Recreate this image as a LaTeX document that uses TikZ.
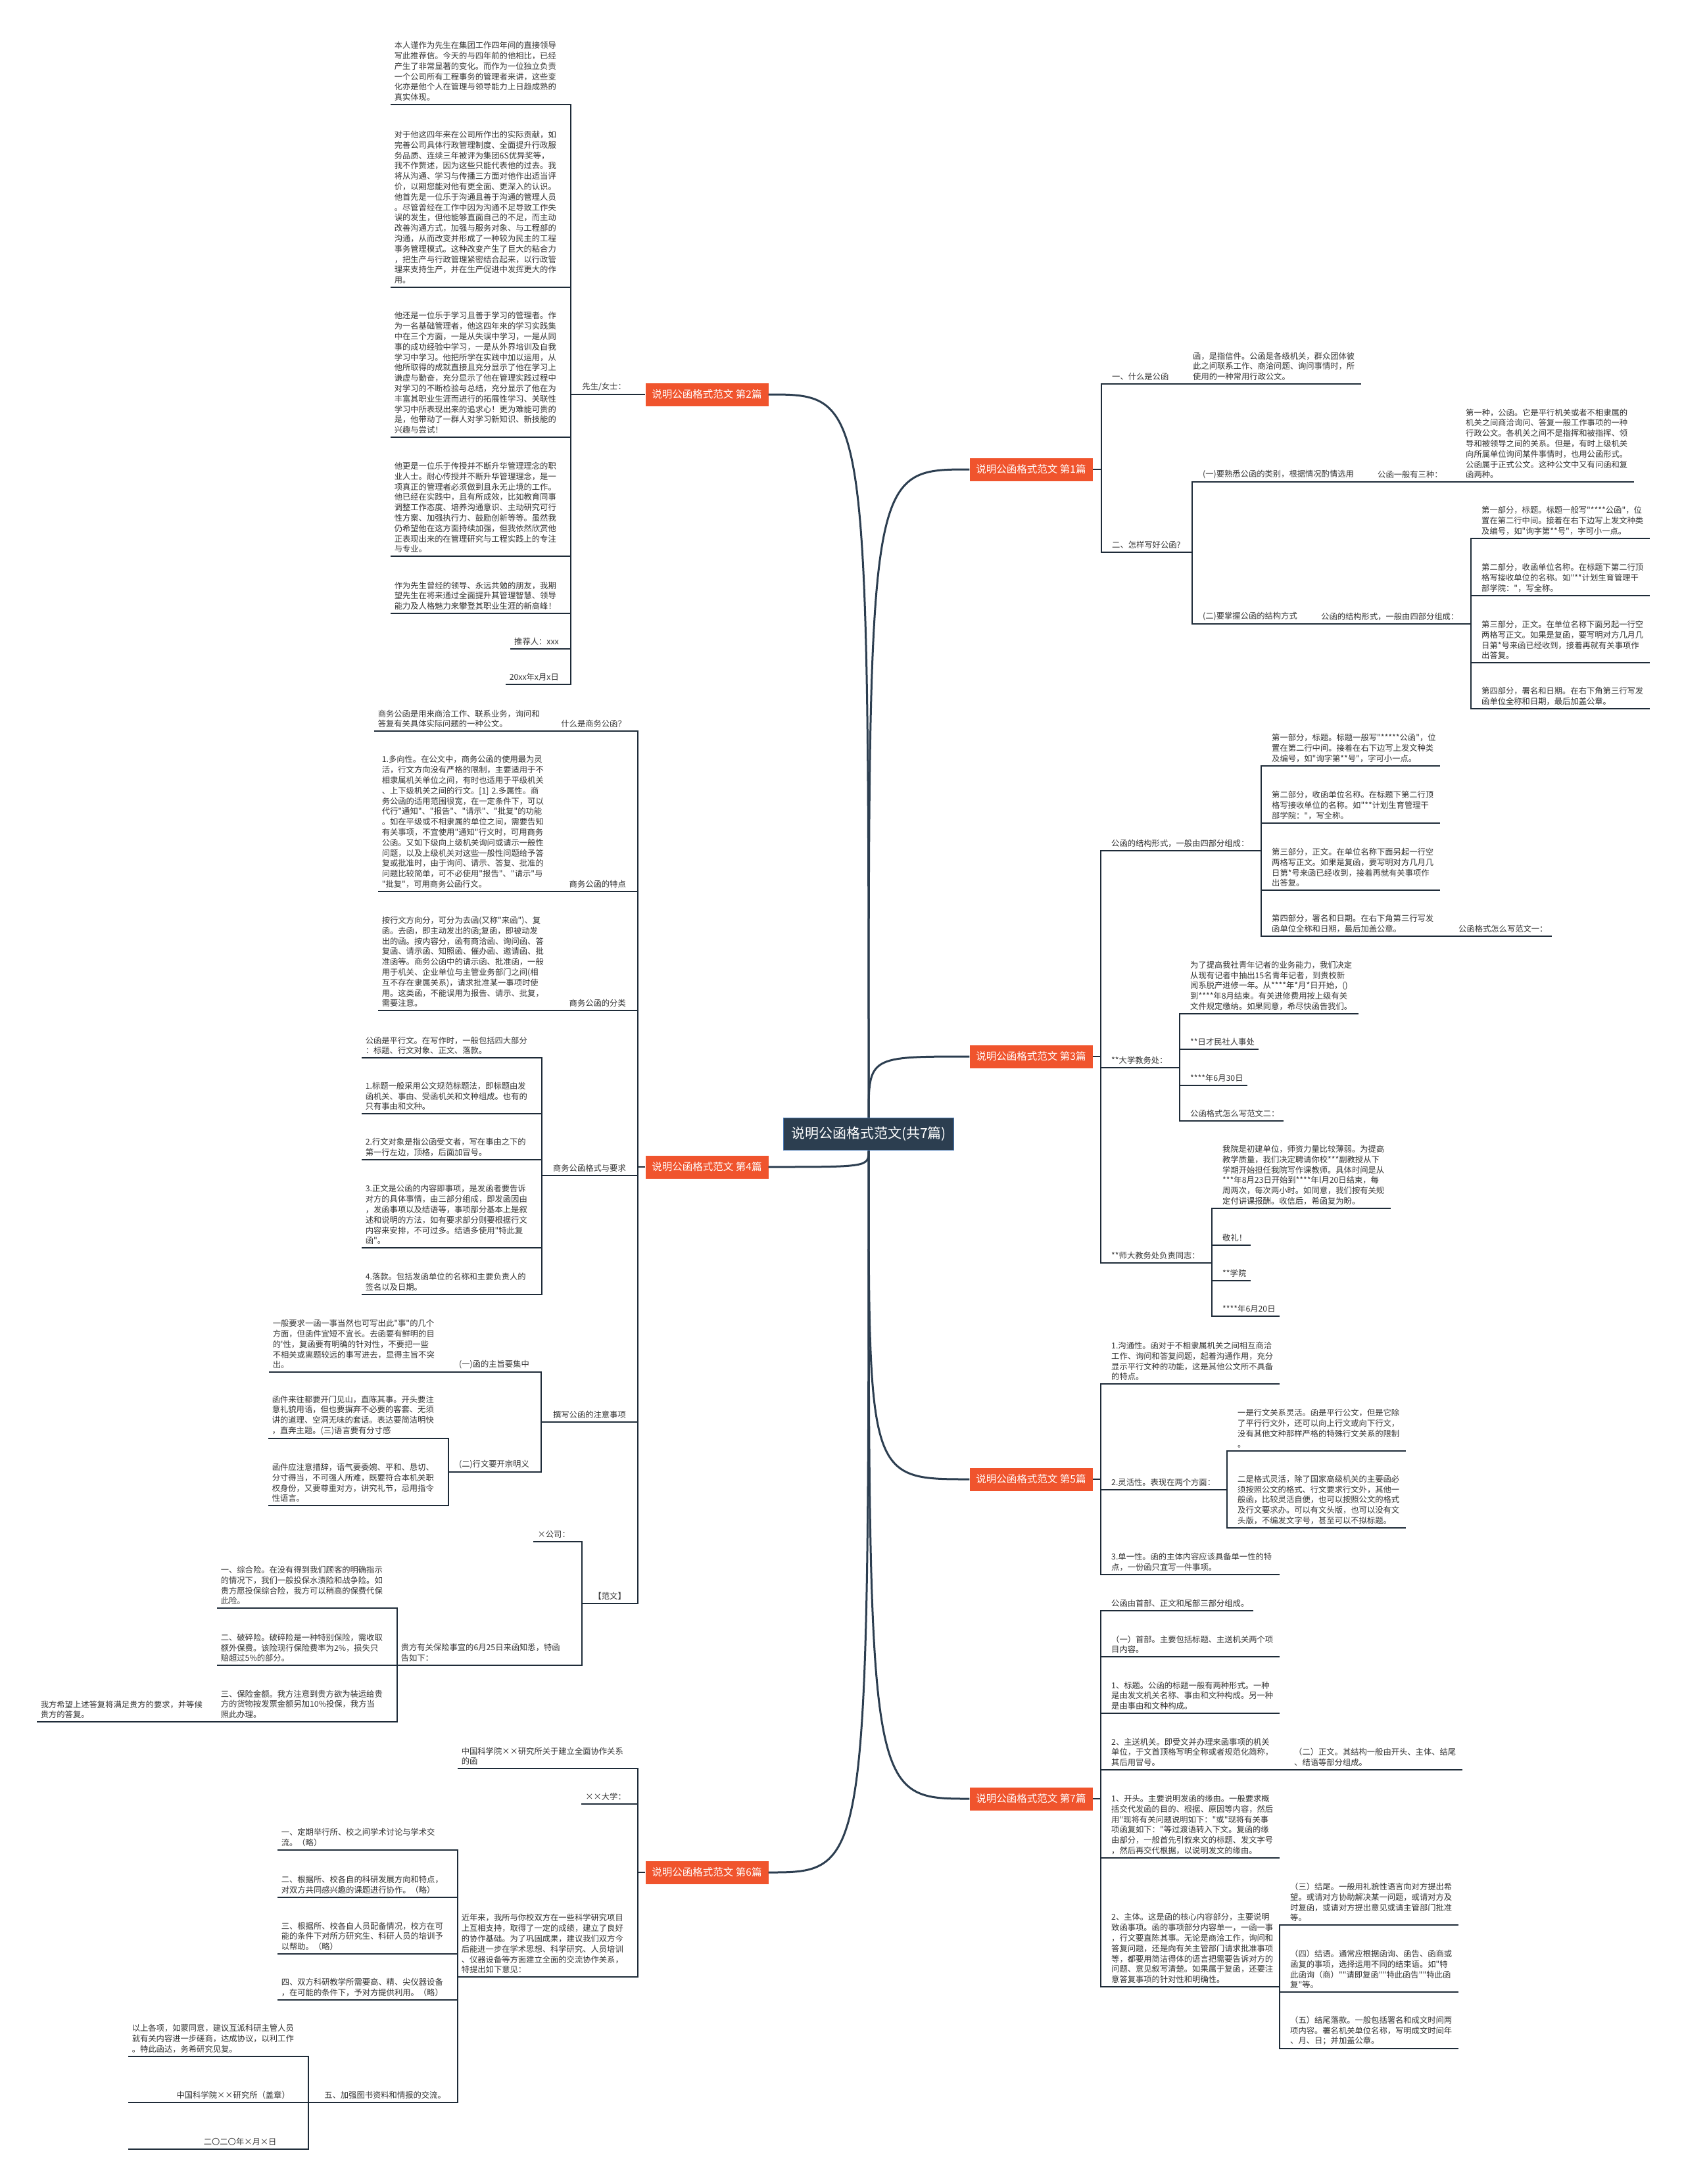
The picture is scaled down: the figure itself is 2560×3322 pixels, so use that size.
\documentclass[tikz,border=0pt]{standalone}
\usepackage{fontspec}
\usepackage{xcolor}
\usepackage{tikz}
\newfontfamily\cjk{Noto Sans CJK SC}
\definecolor{rootfill}{HTML}{2C3E50}
\definecolor{rootedge}{HTML}{4A7AB5}
\definecolor{subfill}{HTML}{F0542D}
\definecolor{stemc}{HTML}{2C3E50}
\definecolor{linec}{HTML}{1E2B38}
\definecolor{txt}{HTML}{333333}
\newcommand{\leaftext}{\cjk\fontsize{12.3}{15.8}\selectfont}

\begin{document}
\begin{tikzpicture}[x=1pt,y=-1pt,
  root/.style={fill=rootfill,draw=rootedge,line width=1.5pt,text=white,font=\cjk\fontsize{21}{24}\selectfont,minimum width=259pt,minimum height=49pt,inner sep=0pt},
  sub/.style={fill=subfill,text=white,font=\cjk\fontsize{15.5}{18}\selectfont,minimum width=187pt,minimum height=35pt,inner sep=0pt},
  rt/.style={anchor=south west,align=left,inner xsep=6pt,inner ysep=5pt,text=txt,font=\leaftext},
  lt/.style={anchor=south east,align=left,inner xsep=6pt,inner ysep=5pt,text=txt,font=\leaftext},
  lh/.style={lt,align=right},
  stem/.style={draw=stemc,line width=3pt},
  wire/.style={draw=linec,line width=2pt}]
  \fill[white] (0,0) rectangle (2560,3322);
  \useasboundingbox (0,0) rectangle (2560,3322);

  \node[root] (root) at (1321,1725) {说明公函格式范文(共7篇)};
  \node[sub] (b1) at (1568,714) {说明公函格式范文 第1篇};
  \node[sub] (b2) at (1075,600) {说明公函格式范文 第2篇};
  \node[sub] (b3) at (1568,1607) {说明公函格式范文 第3篇};
  \node[sub] (b4) at (1075,1775) {说明公函格式范文 第4篇};
  \node[sub] (b5) at (1568,2250) {说明公函格式范文 第5篇};
  \node[sub] (b6) at (1075,2848) {说明公函格式范文 第6篇};
  \node[sub] (b7) at (1568,2736) {说明公函格式范文 第7篇};
  \coordinate (b1j) at (1675,714);
  \coordinate (b2j) at (970,600);
  \coordinate (b3j) at (1674,1607);
  \coordinate (b4j) at (970,1775);
  \coordinate (b5j) at (1674,2250);
  \coordinate (b6j) at (970,2848);
  \coordinate (b7j) at (1674,2736);

  \draw[stem] (root.north) .. controls (root.north |- b1.west) .. (b1.west);
  \draw[stem] (root.north) .. controls (root.north |- b2.east) .. (b2.east);
  \draw[stem] (root.north) .. controls (root.north |- b3.west) .. (b3.west);
  \draw[stem] (root.south) .. controls (root.south |- b4.east) .. (b4.east);
  \draw[stem] (root.south) .. controls (root.south |- b5.west) .. (b5.west);
  \draw[stem] (root.south) .. controls (root.south |- b6.east) .. (b6.east);
  \draw[stem] (root.south) .. controls (root.south |- b7.west) .. (b7.west);

  \node[rt,text width=101pt] (b1a) at (1685,584) {一、什么是公函};
  \node[rt,text width=250pt] (b1a1) at (1808,584) {函，是指信件。公函是各级机关，群众团体彼\\此之间联系工作、商洽问题、询问事情时，所\\使用的一种常用行政公文。};
  \node[rt,text width=116pt] (b1b) at (1685,840) {二、怎样写好公函?};
  \node[rt,text width=244pt] (b1b1) at (1823,733) {(一)要熟悉公函的类别，根据情况酌情选用};
  \node[rt,text width=112pt] (b1b1a) at (2089,733) {公函一般有三种：};
  \node[rt,text width=250pt] (b1b1b) at (2223,733) {第一种，公函。它是平行机关或者不相隶属的\\机关之间商洽询问、答复一般工作事项的一种\\行政公文。各机关之间不是指挥和被指挥、领\\导和被领导之间的关系。但是，有时上级机关\\向所属单位询问某件事情时，也用公函形式。\\公函属于正式公文。这种公文中又有问函和复\\函两种。};
  \node[rt,text width=158pt] (b1b2) at (1823,949) {(二)要掌握公函的结构方式};
  \node[rt,text width=222pt] (b1b2a) at (2003,949) {公函的结构形式，一般由四部分组成：};
  \node[rt,text width=250pt] (b1b2a1) at (2247,819) {第一部分，标题。标题一般写"****公函"，位\\置在第二行中间。接着在右下边写上发文种类\\及编号，如"询字第**号"，字可小一点。};
  \node[rt,text width=250pt] (b1b2a2) at (2247,906) {第二部分，收函单位名称。在标题下第二行顶\\格写接收单位的名称。如"**计划生育管理干\\部学院："，写全称。};
  \node[rt,text width=250pt] (b1b2a3) at (2247,1008) {第三部分，正文。在单位名称下面另起一行空\\两格写正文。如果是复函，要写明对方几月几\\日第*号来函已经收到，接着再就有关事项作\\出答复。};
  \node[rt,text width=250pt] (b1b2a4) at (2247,1078) {第四部分，署名和日期。在右下角第三行写发\\函单位全称和日期，最后加盖公章。};
  \draw[wire] (b1.east) -- (b1j);
  \draw[wire] (b1j) |- (b1a.south east);
  \draw[wire] (b1j) |- (b1b.south east);
  \draw[wire] (b1a.south east) -- (b1a1.south east);
  \draw[wire] (b1b.south east) |- (b1b1.south east);
  \draw[wire] (b1b.south east) |- (b1b2.south east);
  \draw[wire] (b1b1.south east) -- (b1b1a.south east);
  \draw[wire] (b1b1a.south east) -- (b1b1b.south east);
  \draw[wire] (b1b2.south east) -- (b1b2a.south east);
  \draw[wire] (b1b2a.south east) |- (b1b2a1.south east);
  \draw[wire] (b1b2a.south east) |- (b1b2a2.south east);
  \draw[wire] (b1b2a.south east) |- (b1b2a3.south east);
  \draw[wire] (b1b2a.south east) |- (b1b2a4.south east);

  \node[lh,text width=78pt] (b2a) at (958,600) {先生/女士：};
  \node[lt,text width=250pt] (b2a1) at (856,159) {本人谨作为先生在集团工作四年间的直接领导\\写此推荐信。今天的与四年前的他相比，已经\\产生了非常显著的变化。而作为一位独立负责\\一个公司所有工程事务的管理者来讲，这些变\\化亦是他个人在管理与领导能力上日趋成熟的\\真实体现。};
  \node[lt,text width=250pt] (b2a2) at (856,437) {对于他这四年来在公司所作出的实际贡献，如\\完善公司具体行政管理制度、全面提升行政服\\务品质、连续三年被评为集团6S优异奖等，\\我不作赘述，因为这些只能代表他的过去。我\\将从沟通、学习与传播三方面对他作出适当评\\价，以期您能对他有更全面、更深入的认识。\\他首先是一位乐于沟通且善于沟通的管理人员\\。尽管曾经在工作中因为沟通不足导致工作失\\误的发生，但他能够直面自己的不足，而主动\\改善沟通方式，加强与服务对象、与工程部的\\沟通，从而改变并形成了一种较为民主的工程\\事务管理模式。这种改变产生了巨大的粘合力\\，把生产与行政管理紧密结合起来，以行政管\\理来支持生产，并在生产促进中发挥更大的作\\用。};
  \node[lt,text width=250pt] (b2a3) at (856,665) {他还是一位乐于学习且善于学习的管理者。作\\为一名基础管理者，他这四年来的学习实践集\\中在三个方面，一是从失误中学习，一是从同\\事的成功经验中学习，一是从外界培训及自我\\学习中学习。他把所学在实践中加以运用，从\\他所取得的成就直接且充分显示了他在学习上\\谦虚与勤奋，充分显示了他在管理实践过程中\\对学习的不断检验与总结，充分显示了他在为\\丰富其职业生涯而进行的拓展性学习、关联性\\学习中所表现出来的追求心！更为难能可贵的\\是，他带动了一群人对学习新知识、新技能的\\兴趣与尝试！};
  \node[lt,text width=250pt] (b2a4) at (856,846) {他更是一位乐于传授并不断升华管理理念的职\\业人士。耐心传授并不断升华管理理念，是一\\项真正的管理者必须做到且永无止境的工作。\\他已经在实践中，且有所成效，比如教育同事\\调整工作态度、培养沟通意识、主动研究可行\\性方案、加强执行力、鼓励创新等等。虽然我\\仍希望他在这方面持续加强，但我依然欣赏他\\正表现出来的在管理研究与工程实践上的专注\\与专业。};
  \node[lt,text width=250pt] (b2a5) at (856,933) {作为先生曾经的领导、永远共勉的朋友，我期\\望先生在将来通过全面提升其管理智慧、领导\\能力及人格魅力来攀登其职业生涯的新高峰！};
  \node[lt] (b2a6) at (856,987) {推荐人：xxx};
  \node[lt] (b2a7) at (856,1041) {20xx年x月x日};
  \draw[wire] (b2.west) -- (b2j);
  \draw[wire] (b2j) -- (b2a.south west);
  \draw[wire] (b2a.south west) |- (b2a1.south west);
  \draw[wire] (b2a.south west) |- (b2a2.south west);
  \draw[wire] (b2a.south west) |- (b2a3.south west);
  \draw[wire] (b2a.south west) |- (b2a4.south west);
  \draw[wire] (b2a.south west) |- (b2a5.south west);
  \draw[wire] (b2a.south west) |- (b2a6.south west);
  \draw[wire] (b2a.south west) |- (b2a7.south west);

  \node[rt,text width=222pt] (b3a) at (1684,1294) {公函的结构形式，一般由四部分组成：};
  \node[rt,text width=250pt] (b3a1) at (1928,1165) {第一部分，标题。标题一般写"*****公函"，位\\置在第二行中间。接着在右下边写上发文种类\\及编号，如"询字第**号"，字可小一点。};
  \node[rt,text width=250pt] (b3a2) at (1928,1252) {第二部分，收函单位名称。在标题下第二行顶\\格写接收单位的名称。如"**计划生育管理干\\部学院："，写全称。};
  \node[rt,text width=250pt] (b3a3) at (1928,1354) {第三部分，正文。在单位名称下面另起一行空\\两格写正文。如果是复函，要写明对方几月几\\日第*号来函已经收到，接着再就有关事项作\\出答复。};
  \node[rt,text width=250pt] (b3a4) at (1928,1424) {第四部分，署名和日期。在右下角第三行写发\\函单位全称和日期，最后加盖公章。};
  \node[rt] (b3a5) at (2212,1424) {公函格式怎么写范文一：};
  \node[rt,text width=98pt] (b3b) at (1684,1624) {**大学教务处：};
  \node[rt,text width=250pt] (b3b1) at (1804,1542) {为了提高我社青年记者的业务能力，我们决定\\从现有记者中抽出15名青年记者，到贵校新\\闻系脱产进修一年。从****年*月*日开始，()\\到****年8月结束。有关进修费用按上级有关\\文件规定缴纳。如果同意，希尽快函告我们。};
  \node[rt] (b3b2) at (1804,1596) {**日才民社人事处};
  \node[rt] (b3b3) at (1804,1651) {****年6月30日};
  \node[rt] (b3b4) at (1804,1705) {公函格式怎么写范文二：};
  \node[rt,text width=147pt] (b3c) at (1684,1921) {**师大教务处负责同志：};
  \node[rt,text width=250pt] (b3c1) at (1853,1838) {我院是初建单位，师资力量比较薄弱。为提高\\教学质量，我们决定聘请你校***副教授从下\\学期开始担任我院写作课教师。具体时间是从\\****年8月23日开始到****年l月20日结束，每\\周两次，每次两小时。如同意，我们按有关规\\定付讲课报酬。收信后，希函复为盼。};
  \node[rt] (b3c2) at (1853,1894) {敬礼！};
  \node[rt] (b3c3) at (1853,1948) {**学院};
  \node[rt] (b3c4) at (1853,2002) {****年6月20日};
  \draw[wire] (b3.east) -- (b3j);
  \draw[wire] (b3j) |- (b3a.south east);
  \draw[wire] (b3j) |- (b3b.south east);
  \draw[wire] (b3j) |- (b3c.south east);
  \draw[wire] (b3a.south east) |- (b3a1.south east);
  \draw[wire] (b3a.south east) |- (b3a2.south east);
  \draw[wire] (b3a.south east) |- (b3a3.south east);
  \draw[wire] (b3a.south east) |- (b3a4.south east);
  \draw[wire] (b3a4.south east) -- (b3a5.south east);
  \draw[wire] (b3b.south east) |- (b3b1.south east);
  \draw[wire] (b3b.south east) |- (b3b2.south east);
  \draw[wire] (b3b.south east) |- (b3b3.south east);
  \draw[wire] (b3b.south east) |- (b3b4.south east);
  \draw[wire] (b3c.south east) |- (b3c1.south east);
  \draw[wire] (b3c.south east) |- (b3c2.south east);
  \draw[wire] (b3c.south east) |- (b3c3.south east);
  \draw[wire] (b3c.south east) |- (b3c4.south east);

  \node[lh,text width=103pt] (b4a) at (958,1112) {什么是商务公函？};
  \node[lt,text width=250pt] (b4a1) at (831,1112) {商务公函是用来商洽工作、联系业务，询问和\\答复有关具体实际问题的一种公文。};
  \node[lh,text width=97pt] (b4b) at (958,1356) {商务公函的特点};
  \node[lt,text width=250pt] (b4b1) at (837,1356) {1.多向性。在公文中，商务公函的使用最为灵\\活，行文方向没有严格的限制，主要适用于不\\相隶属机关单位之间，有时也适用于平级机关\\、上下级机关之间的行文。[1] 2.多属性。商\\务公函的适用范围很宽，在一定条件下，可以\\代行"通知"、"报告"、"请示"、"批复"的功能\\。如在平级或不相隶属的单位之间，需要告知\\有关事项，不宜使用"通知"行文时，可用商务\\公函。又如下级向上级机关询问或请示一般性\\问题，以及上级机关对这些一般性问题给予答\\复或批准时，由于询问、请示、答复、批准的\\问题比较简单，可不必使用"报告"、"请示"与\\"批复"，可用商务公函行文。};
  \node[lh,text width=97pt] (b4c) at (958,1537) {商务公函的分类};
  \node[lt,text width=250pt] (b4c1) at (837,1537) {按行文方向分，可分为去函(又称"来函")、复\\函。去函，即主动发出的函;复函，即被动发\\出的函。按内容分，函有商洽函、询问函、答\\复函、请示函、知照函、催办函、邀请函、批\\准函等。商务公函中的请示函、批准函，一般\\用于机关、企业单位与主管业务部门之间(相\\互不存在隶属关系)，请求批准某一事项时使\\用。这类函，不能误用为报告、请示、批复，\\需要注意。};
  \node[lh,text width=122pt] (b4d) at (958,1788) {商务公函格式与要求};
  \node[lt,text width=250pt] (b4d1) at (812,1609) {公函是平行文。在写作时，一般包括四大部分\\：标题、行文对象、正文、落款。};
  \node[lt,text width=250pt] (b4d2) at (812,1694) {1.标题一般采用公文规范标题法，即标题由发\\函机关、事由、受函机关和文种组成。也有的\\只有事由和文种。};
  \node[lt,text width=250pt] (b4d3) at (812,1764) {2.行文对象是指公函受文者，写在事由之下的\\第一行左边，顶格，后面加冒号。};
  \node[lt,text width=250pt] (b4d4) at (812,1898) {3.正文是公函的内容即事项，是发函者要告诉\\对方的具体事情，由三部分组成，即发函因由\\，发函事项以及结语等，事项部分基本上是叙\\述和说明的方法，如有要求部分则要根据行文\\内容来安排，不可过多。结语多使用"特此复\\函"。};
  \node[lt,text width=250pt] (b4d5) at (812,1969) {4.落款。包括发函单位的名称和主要负责人的\\签名以及日期。};
  \node[lh,text width=123pt] (b4e) at (958,2163) {撰写公函的注意事项};
  \node[lh,text width=116pt] (b4e1) at (811,2087) {(一)函的主旨要集中};
  \node[lt,text width=250pt] (b4e1a) at (671,2087) {一般要求一函一事当然也可写出此"事"的几个\\方面，但函件宜短不宜长。去函要有鲜明的目\\的'性，复函要有明确的针对性，不要把一些\\不相关或离题较远的事写进去，显得主旨不突\\出。};
  \node[lh,text width=117pt] (b4e2) at (811,2239) {(二)行文要开宗明义};
  \node[lt,text width=250pt] (b4e2a) at (670,2188) {函件来往都要开门见山，直陈其事。开头要注\\意礼貌用语，但也要摒弃不必要的客套、无须\\讲的道理、空洞无味的套话。表达要简洁明快\\，直奔主题。(三)语言要有分寸感};
  \node[lt,text width=250pt] (b4e2b) at (670,2290) {函件应注意措辞，语气要委婉、平和、恳切、\\分寸得当，不可强人所难，既要符合本机关职\\权身份，又要尊重对方，讲究礼节，忌用指令\\性语言。};
  \node[lh,text width=61pt] (b4f) at (958,2439) {【范文】};
  \node[lt] (b4f1) at (873,2345) {×公司：};
  \node[lt,text width=257pt] (b4f2) at (873,2533) {贵方有关保险事宜的6月25日来函知悉，特函\\告如下：};
  \node[lt,text width=250pt] (b4f2a) at (592,2446) {一、综合险。在没有得到我们顾客的明确指示\\的情况下，我们一般投保水渍险和战争险。如\\贵方愿投保综合险，我方可以稍高的保费代保\\此险。};
  \node[lt,text width=250pt] (b4f2b) at (592,2533) {二、破碎险。破碎险是一种特别保险，需收取\\额外保费。该险现行保险费率为2\%，损失只\\赔超过5\%的部分。};
  \node[lt,text width=250pt] (b4f2c) at (592,2619) {三、保险金额。我方注意到贵方欲为装运给贵\\方的货物按发票金额另加10\%投保，我方当\\照此办理。};
  \node[lt,text width=250pt] (b4f2c1) at (318,2619) {我方希望上述答复将满足贵方的要求，并等候\\贵方的答复。};
  \draw[wire] (b4.west) -- (b4j);
  \draw[wire] (b4j) |- (b4a.south west);
  \draw[wire] (b4j) |- (b4b.south west);
  \draw[wire] (b4j) |- (b4c.south west);
  \draw[wire] (b4j) |- (b4d.south west);
  \draw[wire] (b4j) |- (b4e.south west);
  \draw[wire] (b4j) |- (b4f.south west);
  \draw[wire] (b4a.south west) -- (b4a1.south west);
  \draw[wire] (b4b.south west) -- (b4b1.south west);
  \draw[wire] (b4c.south west) -- (b4c1.south west);
  \draw[wire] (b4d.south west) |- (b4d1.south west);
  \draw[wire] (b4d.south west) |- (b4d2.south west);
  \draw[wire] (b4d.south west) |- (b4d3.south west);
  \draw[wire] (b4d.south west) |- (b4d4.south west);
  \draw[wire] (b4d.south west) |- (b4d5.south west);
  \draw[wire] (b4e.south west) |- (b4e1.south west);
  \draw[wire] (b4e.south west) |- (b4e2.south west);
  \draw[wire] (b4e1.south west) -- (b4e1a.south west);
  \draw[wire] (b4e2.south west) |- (b4e2a.south west);
  \draw[wire] (b4e2.south west) |- (b4e2b.south west);
  \draw[wire] (b4f.south west) |- (b4f1.south west);
  \draw[wire] (b4f.south west) |- (b4f2.south west);
  \draw[wire] (b4f2.south west) |- (b4f2a.south west);
  \draw[wire] (b4f2.south west) |- (b4f2b.south west);
  \draw[wire] (b4f2.south west) |- (b4f2c.south west);
  \draw[wire] (b4f2c.south west) -- (b4f2c1.south west);

  \node[rt,text width=250pt] (b5a) at (1684,2105) {1.沟通性。函对于不相隶属机关之间相互商洽\\工作、询问和答复问题，起着沟通作用，充分\\显示平行文种的功能，这是其他公文所不具备\\的特点。};
  \node[rt,text width=170pt] (b5b) at (1684,2266) {2.灵活性。表现在两个方面：};
  \node[rt,text width=250pt] (b5b1) at (1876,2207) {一是行文关系灵活。函是平行公文，但是它除\\了平行行文外，还可以向上行文或向下行文，\\没有其他文种那样严格的特殊行文关系的限制\\。};
  \node[rt,text width=250pt] (b5b2) at (1876,2324) {二是格式灵活，除了国家高级机关的主要函必\\须按照公文的格式、行文要求行文外，其他一\\般函，比较灵活自便，也可以按照公文的格式\\及行文要求办。可以有文头版，也可以没有文\\头版，不编发文字号，甚至可以不拟标题。};
  \node[rt,text width=250pt] (b5c) at (1684,2395) {3.单一性。函的主体内容应该具备单一性的特\\点，一份函只宜写一件事项。};
  \draw[wire] (b5.east) -- (b5j);
  \draw[wire] (b5j) |- (b5a.south east);
  \draw[wire] (b5j) |- (b5b.south east);
  \draw[wire] (b5j) |- (b5c.south east);
  \draw[wire] (b5b.south east) |- (b5b1.south east);
  \draw[wire] (b5b.south east) |- (b5b2.south east);

  \node[lt,text width=250pt] (b6a) at (958,2690) {中国科学院××研究所关于建立全面协作关系\\的函};
  \node[lt] (b6b) at (958,2744) {××大学：};
  \node[lt,text width=250pt] (b6c) at (958,3007) {近年来，我所与你校双方在一些科学研究项目\\上互相支持，取得了一定的成绩，建立了良好\\的协作基础。为了巩固成果，建议我们双方今\\后能进一步在学术思想、科学研究、人员培训\\、仪器设备等方面建立全面的交流协作关系，\\特提出如下意见：};
  \node[lt,text width=250pt] (b6c1) at (684,2814) {一、定期举行所、校之间学术讨论与学术交\\流。（略）};
  \node[lt,text width=250pt] (b6c2) at (684,2886) {二、根据所、校各自的科研发展方向和特点，\\对双方共同感兴趣的课题进行协作。（略）};
  \node[lt,text width=250pt] (b6c3) at (684,2972) {三、根据所、校各自人员配备情况，校方在可\\能的条件下对所方研究生、科研人员的培训予\\以帮助。（略）};
  \node[lt,text width=250pt] (b6c4) at (684,3042) {四、双方科研教学所需要高、精、尖仪器设备\\，在可能的条件下，予对方提供利用。（略）};
  \node[lh,text width=203pt] (b6c5) at (684,3198) {五、加强图书资料和情报的交流。};
  \node[lt,text width=250pt] (b6c5a) at (457,3128) {以上各项，如蒙同意，建议互派科研主管人员\\就有关内容进一步磋商，达成协议，以利工作\\。特此函达，务希研究见复。};
  \node[lh,text width=250pt] (b6c5b) at (457,3198) {中国科学院××研究所（盖章）\hspace*{10pt}\mbox{}};
  \node[lt,text width=250pt] (b6c5c) at (457,3269) {\hspace*{109pt}二〇二〇年×月×日};
  \draw[wire] (b6.west) -- (b6j);
  \draw[wire] (b6j) |- (b6a.south west);
  \draw[wire] (b6j) |- (b6b.south west);
  \draw[wire] (b6j) |- (b6c.south west);
  \draw[wire] (b6c.south west) |- (b6c1.south west);
  \draw[wire] (b6c.south west) |- (b6c2.south west);
  \draw[wire] (b6c.south west) |- (b6c3.south west);
  \draw[wire] (b6c.south west) |- (b6c4.south west);
  \draw[wire] (b6c.south west) |- (b6c5.south west);
  \draw[wire] (b6c5.south west) |- (b6c5a.south west);
  \draw[wire] (b6c5.south west) |- (b6c5b.south west);
  \draw[wire] (b6c5.south west) |- (b6c5c.south west);

  \node[rt] (b7a) at (1684,2450) {公函由首部、正文和尾部三部分组成。};
  \node[rt,text width=250pt] (b7b) at (1684,2520) {（一）首部。主要包括标题、主送机关两个项\\目内容。};
  \node[rt,text width=250pt] (b7c) at (1684,2606) {1、标题。公函的标题一般有两种形式。一种\\是由发文机关名称、事由和文种构成。另一种\\是由事由和文种构成。};
  \node[rt,text width=250pt] (b7d) at (1684,2692) {2、主送机关。即受文并办理来函事项的机关\\单位，于文首顶格写明全称或者规范化简称，\\其后用冒号。};
  \node[rt,text width=250pt] (b7d1) at (1962,2692) {（二）正文。其结构一般由开头、主体、结尾\\、结语等部分组成。};
  \node[rt,text width=250pt] (b7e) at (1684,2826) {1、开头。主要说明发函的缘由。一般要求概\\括交代发函的目的、根据、原因等内容，然后\\用"现将有关问题说明如下："或"现将有关事\\项函复如下："等过渡语转入下文。复函的缘\\由部分，一般首先引叙来文的标题、发文字号\\，然后再交代根据，以说明发文的缘由。};
  \node[rt,text width=250pt] (b7f) at (1684,3022) {2、主体。这是函的核心内容部分，主要说明\\致函事项。函的事项部分内容单一，一函一事\\，行文要直陈其事。无论是商洽工作，询问和\\答复问题，还是向有关主管部门请求批准事项\\等，都要用简洁得体的语言把需要告诉对方的\\问题、意见叙写清楚。如果属于复函，还要注\\意答复事项的针对性和明确性。};
  \node[rt,text width=250pt] (b7f1) at (1956,2928) {（三）结尾。一般用礼貌性语言向对方提出希\\望。或请对方协助解决某一问题，或请对方及\\时复函，或请对方提出意见或请主管部门批准\\等。};
  \node[rt,text width=250pt] (b7f2) at (1956,3030) {（四）结语。通常应根据函询、函告、函商或\\函复的事项，选择运用不同的结束语。如"特\\此函询（商）""请即复函""特此函告""特此函\\复"等。};
  \node[rt,text width=250pt] (b7f3) at (1956,3116) {（五）结尾落款。一般包括署名和成文时间两\\项内容。署名机关单位名称，写明成文时间年\\、月、日；并加盖公章。};
  \draw[wire] (b7.east) -- (b7j);
  \draw[wire] (b7j) |- (b7a.south east);
  \draw[wire] (b7j) |- (b7b.south east);
  \draw[wire] (b7j) |- (b7c.south east);
  \draw[wire] (b7j) |- (b7d.south east);
  \draw[wire] (b7j) |- (b7e.south east);
  \draw[wire] (b7j) |- (b7f.south east);
  \draw[wire] (b7d.south east) -- (b7d1.south east);
  \draw[wire] (b7f.south east) |- (b7f1.south east);
  \draw[wire] (b7f.south east) |- (b7f2.south east);
  \draw[wire] (b7f.south east) |- (b7f3.south east);
\end{tikzpicture}
\end{document}
